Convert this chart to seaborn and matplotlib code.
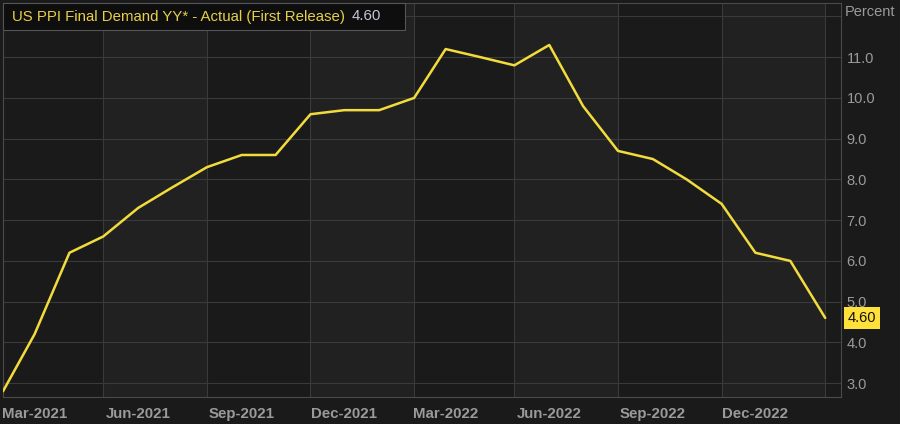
import pandas as pd
import numpy as np
import matplotlib
matplotlib.use("Agg")
import matplotlib.pyplot as plt
import matplotlib.dates as mdates
from matplotlib.patches import Rectangle
import seaborn as sns

# monthly PPI final demand y/y, first release
months = pd.date_range("2021-02-01", "2023-02-01", freq="MS")
ppi_yy = [2.8, 4.2, 6.2, 6.6, 7.3, 7.8, 8.3, 8.6, 8.6, 9.6, 9.7, 9.7,
          10.0, 11.2, 11.0, 10.8, 11.3, 9.8, 8.7, 8.5, 8.0, 7.4, 6.2, 6.0, 4.6]
y_ticks = [3, 4, 5, 6, 7, 8, 9, 10, 11, 12]
title_text = "US PPI Final Demand YY* - Actual (First Release)"
last_label = "4.60"

df = pd.DataFrame({"date": months, "value": ppi_yy})

sns.set_style("dark")
plt.rcParams['font.family'] = ['Liberation Sans', 'DejaVu Sans']

fig_bg = "#1a1a1a"
fig = plt.figure(figsize=(9, 4.24), dpi=100, facecolor=fig_bg)
ax = fig.add_axes([3 / 900, 27 / 424, 838 / 900, 394 / 424])
ax.set_facecolor("#1b1a1b")

# alternating shaded bands between the quarter gridlines
band_edges = pd.date_range("2021-05-01", "2023-02-01", freq="3MS")
for i in range(0, len(band_edges) - 1, 2):
    ax.axvspan(band_edges[i], band_edges[i + 1], color="#222122", zorder=0, lw=0)

sns.lineplot(data=df, x="date", y="value", ax=ax, color="#f2dc3c",
             linewidth=1.8, zorder=3)

ax.set_xlim(pd.Timestamp("2021-02-01"), pd.Timestamp("2023-02-15"))
ax.set_ylim(2.66, 12.33)
ax.set_xlabel("")
ax.set_ylabel("")

# major ticks = labels, minor ticks = gridlines
ax.xaxis.set_major_locator(mdates.MonthLocator(bymonth=[3, 6, 9, 12]))
ax.xaxis.set_major_formatter(mdates.DateFormatter("%b-%Y"))
ax.xaxis.set_minor_locator(mdates.MonthLocator(bymonth=[2, 5, 8, 11]))
ax.grid(False)
ax.grid(which="minor", axis="x", color="#3a3a3a", linewidth=0.8)
ax.grid(which="major", axis="y", color="#3a3a3a", linewidth=0.8)
ax.tick_params(axis="x", which="major", length=4, width=0.8, color="#5a5a5a",
               labelcolor="#9a9a9a", labelsize=10.8, pad=3)
ax.tick_params(axis="x", which="minor", length=0)
for lbl in ax.get_xticklabels():
    lbl.set_fontweight("bold")

ax.yaxis.tick_right()
ax.set_yticks(y_ticks)
ax.set_yticklabels([f"{v:.1f}" if v < 12 else "" for v in y_ticks])
ax.tick_params(axis="y", length=0, labelcolor="#9a9a9a", labelsize=10.5, pad=4)

for s in ax.spines.values():
    s.set_visible(True)
    s.set_color("#4a4a4a")
    s.set_linewidth(0.8)

fig.text(845 / 900, 1 - 12 / 424, "Percent", color="#9a9a9a", fontsize=10.5,
         ha="left", va="center")

# title box covering name and latest value
fig.add_artist(Rectangle((3 / 900, 1 - 30 / 424), 402 / 900, 27 / 424,
                         transform=fig.transFigure, fc="#0e0e0e", ec="#555555",
                         lw=0.8, zorder=5))
fig.text(12 / 900, 1 - 16.5 / 424, title_text, color="#e6cf4a", fontsize=10.8,
         ha="left", va="center", zorder=6)
fig.text(352 / 900, 1 - 16.5 / 424, last_label, color="#c4c6d4", fontsize=10.8,
         ha="left", va="center", zorder=6)

# last value tag on the axis
ax.annotate(last_label, xy=(1.0, ppi_yy[-1]), xycoords=ax.get_yaxis_transform(),
            xytext=(5, 0), textcoords="offset points", ha="left", va="center",
            color="#111111", fontsize=10.5,
            bbox=dict(boxstyle="square,pad=0.25", fc="#ffe13a", ec="none"))

fig.savefig("out.png", dpi=100, facecolor=fig_bg)
